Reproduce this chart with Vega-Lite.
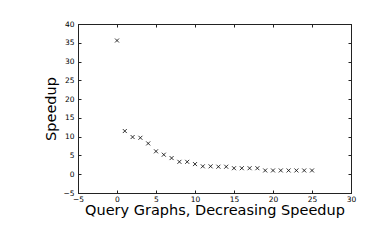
{
  "$schema": "https://vega.github.io/schema/vega-lite/v6.json",
  "width": 273,
  "height": 169,
  "autosize": {"type": "none"},
  "padding": {"left": 78, "top": 24, "right": 39, "bottom": 49},
  "background": "white",
  "config": {
    "view": {"stroke": "#222", "strokeWidth": 1},
    "font": "DejaVu Sans",
    "axis": {
      "grid": false,
      "domainColor": "#222",
      "tickColor": "#222",
      "labelColor": "black",
      "labelFont": "DejaVu Sans",
      "labelFontSize": 7.5,
      "titleFont": "DejaVu Sans",
      "titleFontSize": 14.5,
      "titleFontWeight": "normal",
      "titleColor": "black",
      "tickSize": -3,
      "labelPadding": 5
    }
  },
  "data": {"values": [
    {"g": 0, "s": 35.6},
    {"g": 1, "s": 11.5},
    {"g": 2, "s": 9.9},
    {"g": 3, "s": 9.7},
    {"g": 4, "s": 8.2},
    {"g": 5, "s": 6.1},
    {"g": 6, "s": 5.2},
    {"g": 7, "s": 4.3},
    {"g": 8, "s": 3.3},
    {"g": 9, "s": 3.3},
    {"g": 10, "s": 2.7},
    {"g": 11, "s": 2.1},
    {"g": 12, "s": 2.1},
    {"g": 13, "s": 2.0},
    {"g": 14, "s": 2.0},
    {"g": 15, "s": 1.6},
    {"g": 16, "s": 1.6},
    {"g": 17, "s": 1.6},
    {"g": 18, "s": 1.6},
    {"g": 19, "s": 1.0},
    {"g": 20, "s": 1.0},
    {"g": 21, "s": 1.0},
    {"g": 22, "s": 1.0},
    {"g": 23, "s": 1.0},
    {"g": 24, "s": 1.0},
    {"g": 25, "s": 1.0}
  ]},
  "layer": [
    {
      "mark": {"type": "point", "shape": "M-1,-1L1,1M-1,1L1,-1", "filled": false, "stroke": "black", "strokeWidth": 0.8, "size": 16, "opacity": 1},
      "encoding": {
        "x": {"field": "g", "type": "quantitative", "scale": {"domain": [-5, 30], "nice": false, "zero": false},
          "axis": {"orient": "bottom", "values": [-5, 0, 5, 10, 15, 20, 25, 30], "title": "Query Graphs, Decreasing Speedup", "titlePadding": 1, "labelExpr": "replace(datum.label, '-', '−')", "labelFlush": false}},
        "y": {"field": "s", "type": "quantitative", "scale": {"domain": [-5, 40], "nice": false, "zero": false},
          "axis": {"orient": "left", "values": [-5, 0, 5, 10, 15, 20, 25, 30, 35, 40], "title": "Speedup", "titlePadding": 4, "labelPadding": 7, "labelExpr": "replace(datum.label, '-', '−')", "labelFlush": false}}
      }
    },
    {
      "mark": {"type": "point", "opacity": 0},
      "encoding": {
        "x": {"field": "g", "type": "quantitative", "scale": {"domain": [-5, 30], "nice": false, "zero": false},
          "axis": {"orient": "top", "values": [-5, 0, 5, 10, 15, 20, 25, 30], "title": null, "labels": false}},
        "y": {"field": "s", "type": "quantitative", "scale": {"domain": [-5, 40], "nice": false, "zero": false},
          "axis": {"orient": "right", "values": [-5, 0, 5, 10, 15, 20, 25, 30, 35, 40], "title": null, "labels": false}}
      }
    }
  ],
  "resolve": {"axis": {"x": "independent", "y": "independent"}}
}
